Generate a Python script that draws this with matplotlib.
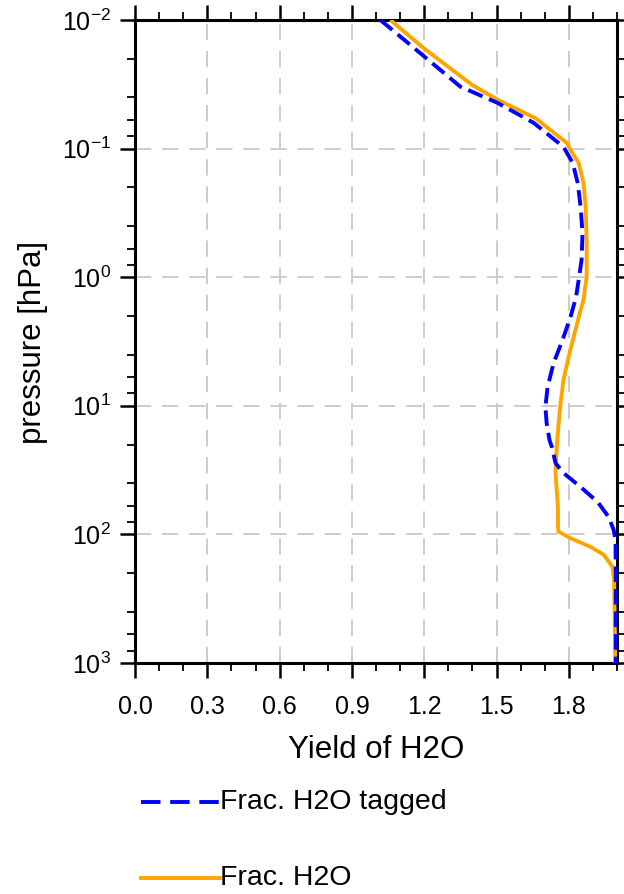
import matplotlib
matplotlib.use("Agg")
import matplotlib.pyplot as plt
from matplotlib.lines import Line2D
import matplotlib.ticker as mticker

plt.rcParams['font.family'] = ['Liberation Sans', 'DejaVu Sans']
plt.rcParams['mathtext.fontset'] = 'custom'
plt.rcParams['mathtext.rm'] = 'Liberation Sans'
plt.rcParams['mathtext.it'] = 'Liberation Sans'

# Data (pressure in hPa, yield)
p_tagged = [0.01, 0.019, 0.033, 0.044, 0.063, 0.097, 0.129, 0.185, 0.284, 0.453, 0.734, 1.05,
            1.43, 2.04, 3.08, 4.65, 7.14, 10.2, 13.6, 18.5, 21, 27.9, 33.3, 42.8, 56, 73, 92,
            111, 226, 1000]
y_tagged = [1.018, 1.197, 1.35, 1.503, 1.654, 1.778, 1.816, 1.837, 1.849, 1.857, 1.853, 1.841,
            1.83, 1.807, 1.774, 1.737, 1.712, 1.703, 1.708, 1.72, 1.73, 1.745, 1.778, 1.849, 1.92,
            1.965, 1.986, 1.994, 1.995, 1.995]

p_frac = [0.01, 0.0165, 0.032, 0.042, 0.058, 0.091, 0.1026, 0.129, 0.185, 0.284, 0.514, 0.996,
          1.5, 1.8, 2.92, 4.18, 6.3, 9.5, 13.6, 20.9, 33.3, 61.2, 84.5, 95, 107, 125, 144, 179,
          226, 1000]
y_frac = [1.06, 1.197, 1.399, 1.508, 1.662, 1.794, 1.807, 1.841, 1.861, 1.870, 1.874, 1.874,
          1.861, 1.849, 1.82, 1.799, 1.778, 1.766, 1.758, 1.75, 1.745, 1.755, 1.755, 1.757, 1.807,
          1.89, 1.945, 1.982, 1.988, 1.993]

xticks = [0.0, 0.3, 0.6, 0.9, 1.2, 1.5, 1.8]
xticklabels = ["0.0", "0.3", "0.6", "0.9", "1.2", "1.5", "1.8"]
yticks = [0.01, 0.1, 1, 10, 100, 1000]
yticklabels = [r"$10^{-2}$", r"$10^{-1}$", r"$10^{0}$", r"$10^{1}$", r"$10^{2}$", r"$10^{3}$"]

W, H = 624, 894
fig = plt.figure(figsize=(W/100, H/100), dpi=100)
L, R, T, B = 135, 617, 20, 663
ax = fig.add_axes([L/W, 1 - B/H, (R-L)/W, (B-T)/H])

ax.plot(y_frac, p_frac, color='#ffa500', lw=2.8, solid_capstyle='butt', zorder=3)
ax.plot(y_tagged, p_tagged, color='#0000ff', lw=2.8, dashes=(4, 1.8), zorder=4)

ax.set_yscale('log')
ax.set_ylim(1000, 0.01)
ax.set_xlim(0, 2.0)

ax.set_xticks(xticks)
ax.set_xticklabels(xticklabels, fontsize=18)
ax.xaxis.set_minor_locator(mticker.MultipleLocator(0.1))
ax.set_yticks(yticks)
ax.set_yticklabels(yticklabels, fontsize=18)
ax.yaxis.set_minor_locator(mticker.LogLocator(base=10, subs=[2, 4, 6, 8], numticks=20))
ax.yaxis.set_minor_formatter(mticker.NullFormatter())

ax.tick_params(which='both', direction='out', top=True, right=True, labeltop=False, labelright=False)
ax.tick_params(which='major', length=11, width=1.8)
ax.tick_params(which='minor', length=6, width=1.3)
ax.tick_params(axis='x', which='major', pad=12)
ax.tick_params(axis='y', which='major', pad=6)
for s in ax.spines.values():
    s.set_linewidth(2.2)

for xv in xticks[1:]:
    ax.axvline(xv, color='#c8c8c8', lw=1.3, dashes=(9, 6), zorder=1)
for yv in yticks[1:-1]:
    ax.axhline(yv, color='#c8c8c8', lw=1.3, dashes=(9, 6), zorder=1)

fig.text(376/W, 1 - 750/H, "Yield of H2O", fontsize=22.5, ha='center', va='center')
fig.text(33/W, 1 - 342/H, "pressure [hPa]", fontsize=22.5, ha='center', va='center', rotation=90)

# legend
for yy, col, ls, lab in [(802, '#0000ff', (5, 2.5), "Frac. H2O tagged"), (878, '#ffa500', None, "Frac. H2O")]:
    ln = Line2D([141/W, 220/W], [1 - yy/H, 1 - yy/H], transform=fig.transFigure,
                color=col, lw=2.8)
    if ls is not None:
        ln.set_dashes(ls)
    fig.add_artist(ln)
    fig.text(220/W, 1 - yy/H, lab, fontsize=20.5, ha='left', va='center')

fig.savefig("out.png", dpi=100)
